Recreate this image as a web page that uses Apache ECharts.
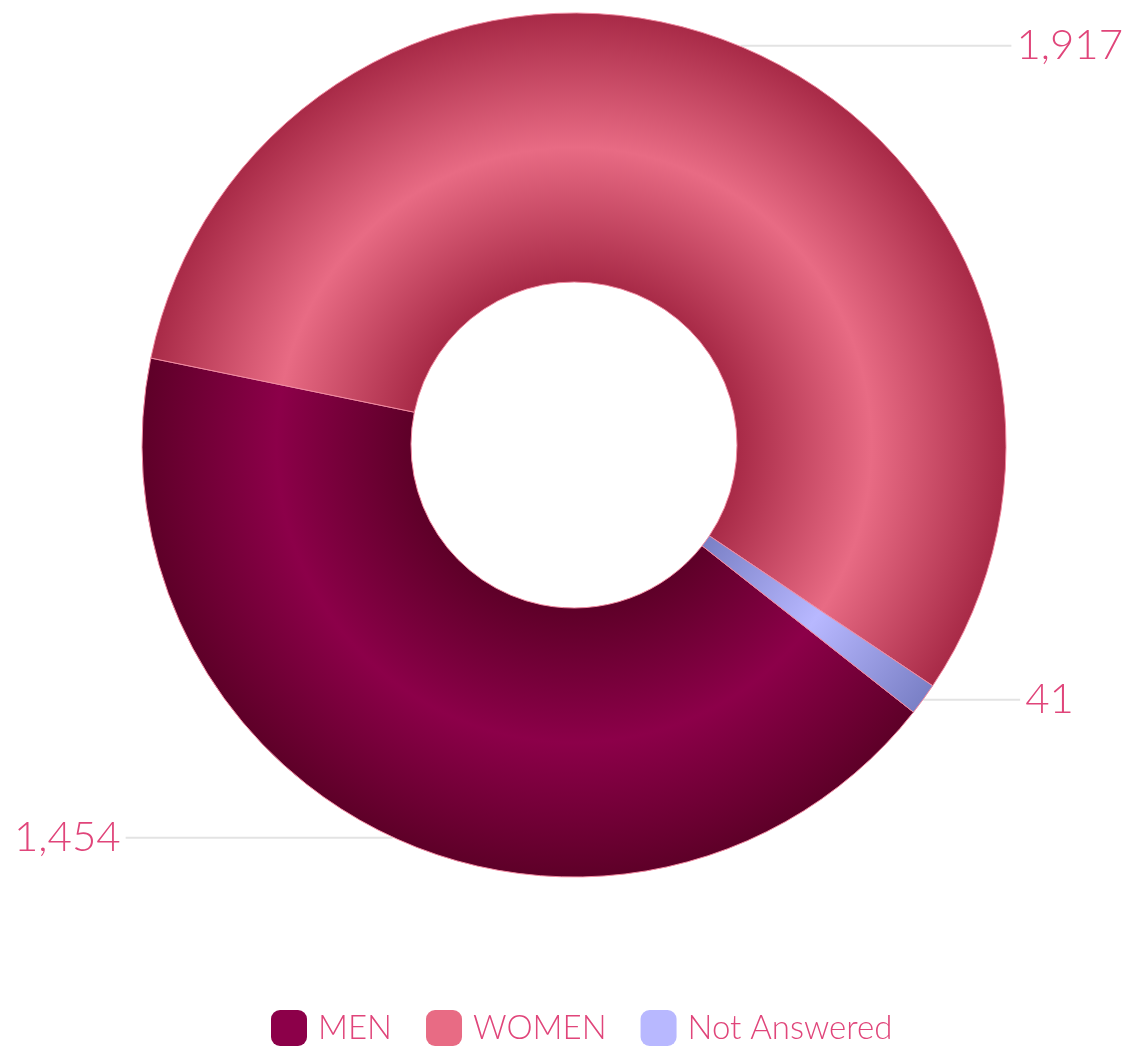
<!doctype html>
<html>
<head>
<meta charset="UTF-8">
<title>Respondents by gender</title>
<script src="https://cdn.jsdelivr.net/npm/echarts@6/dist/echarts.min.js"></script>
<style>
	html, body { margin: 0; padding: 0; background: #ffffff; }
	#chart { width: 1122px; height: 1053px; }
</style>
</head>
<body>
<div id="chart"></div>
<script>
// data
var categories = ['MEN', 'WOMEN', 'Not Answered'];
var counts = [1454, 1917, 41];
// legend / swatch colours, and the dark edge colour of each ring gradient
var lightColors = ['#8c0049', '#e86b84', '#b8b8ff'];
var darkColors = ['#5e0028', '#a82a47', '#7a80c6'];
// horizontal leader length for each label
var leaderLengths = [266, 270, 96];

var cx = 574, cy = 445, rIn = 163, rOut = 432;
var innerStop = rIn / rOut;
var midStop = (innerStop + 1) / 2;

function ringGradient(i) {
	return {
		type: 'radial', x: cx, y: cy, r: rOut, global: true,
		colorStops: [
			{ offset: 0, color: darkColors[i] },
			{ offset: innerStop, color: darkColors[i] },
			{ offset: midStop, color: lightColors[i] },
			{ offset: 1, color: darkColors[i] }
		]
	};
}

var seriesData = [];
var legendData = [];
for (var i = 0; i < categories.length; i++) {
	seriesData.push({
		name: categories[i],
		value: counts[i],
		itemStyle: { color: ringGradient(i) },
		labelLine: { length: 1, length2: leaderLengths[i] }
	});
	legendData.push({
		name: categories[i],
		itemStyle: { color: lightColors[i], borderWidth: 0 }
	});
}

var chart = echarts.init(document.getElementById('chart'));
chart.setOption({
	animation: false,
	legend: {
		data: legendData,
		bottom: 2,
		left: 266,
		icon: 'roundRect',
		itemWidth: 36,
		itemHeight: 36,
		itemGap: 34,
		textStyle: {
			color: '#e0457a',
			fontSize: 33,
			fontFamily: 'Lato',
			fontWeight: 300,
			padding: [0, 0, 0, 6]
		}
	},
	series: [{
		type: 'pie',
		center: [cx, cy],
		radius: [rIn, rOut],
		startAngle: 321.8,
		clockwise: true,
		itemStyle: { borderColor: '#f08aa0', borderWidth: 1 },
		label: {
			show: true,
			formatter: function (p) { return p.value.toLocaleString('en-US'); },
			color: '#e0457a',
			fontSize: 42,
			fontFamily: 'Lato',
			fontWeight: 300,
			overflow: 'none',
			distanceToLabelLine: 5
		},
		labelLine: {
			show: true,
			lineStyle: { color: '#e3e3e3', width: 2 }
		},
		emphasis: { disabled: true },
		data: seriesData
	}]
});
</script>
</body>
</html>
